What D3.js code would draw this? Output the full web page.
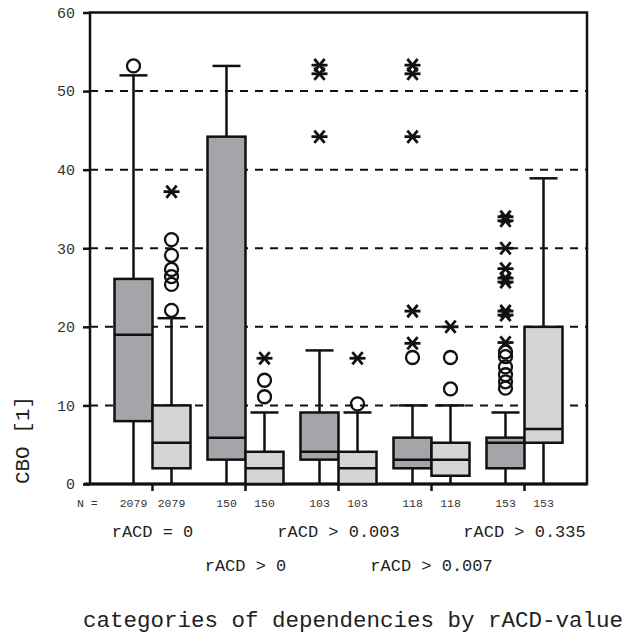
<!DOCTYPE html>
<html><head><meta charset="utf-8">
<script src="https://cdn.jsdelivr.net/npm/d3@7"></script>
<style>body{margin:0;background:#fff}svg{display:block}</style>
</head><body><svg id="c" width="630" height="635"></svg>
<script>
const categories = ["rACD = 0","rACD > 0","rACD > 0.003","rACD > 0.007","rACD > 0.335"];
const nCounts = [2079,150,103,118,153];
const yTicks = [0,10,20,30,40,50,60];
// dark series (first box of each pair)
const darkMin = [0,0,0,0,0];
const darkQ1  = [8,3.1,3.1,2,2];
const darkMed = [19,5.9,4.1,3.1,5.25];
const darkQ3  = [26.1,44.2,9.1,5.9,5.9];
const darkMax = [52,53.2,17,10,9.1];
const darkCircles = [[53.2],[],[],[16.1],[12.2,13,13.9,14.9,16.2,16.8]];
const darkStars = [[],[],[53.3,52.2,44.2],[53.3,52.2,44.2,17.9,22],[18,21.5,22,25.7,26.2,27.4,30,33.5,34]];
// light series (second box of each pair)
const lightMin = [0,0,0,0,0];
const lightQ1  = [2,0,0,1.05,5.25];
const lightMed = [5.25,2,2,3.1,7];
const lightQ3  = [10,4.1,4.1,5.25,20];
const lightMax = [21.1,9.1,9.1,10,38.9];
const lightCircles = [[22.1,25.4,26.4,27.3,29.1,31.1],[11.1,13.2],[10.2],[12.1,16.1],[]];
const lightStars = [[37.2],[16],[16],[20],[]];

const series = [
  {key:"dark", fill:"#a4a5a9", min:darkMin,q1:darkQ1,med:darkMed,q3:darkQ3,max:darkMax,circ:darkCircles,star:darkStars},
  {key:"light", fill:"#d4d5d7", min:lightMin,q1:lightQ1,med:lightMed,q3:lightQ3,max:lightMax,circ:lightCircles,star:lightStars}
];

const svg = d3.select("#c");
const L=90, R=587, T=12.5, B=484;
const FONT = "'Liberation Mono', 'Courier New', monospace";
const y = d3.scaleLinear().domain([0,60]).range([B,T]);
const x = d3.scaleBand().domain(categories).range([L+16, R-16]);
const sub = d3.scaleBand().domain(["dark","light"]).range([x.bandwidth()/2-38, x.bandwidth()/2+38]);
const bw = sub.bandwidth();

// gridlines
svg.append("g").selectAll("line").data(yTicks.filter(t=>t>0&&t<60)).join("line")
  .attr("x1",L).attr("x2",R).attr("y1",d=>y(d)).attr("y2",d=>y(d))
  .attr("stroke","#111").attr("stroke-width",2).attr("stroke-dasharray","8,7");

// y axis
const ya = svg.append("g").attr("transform",`translate(${L},0)`)
  .call(d3.axisLeft(y).tickValues(yTicks).tickSize(7).tickPadding(8));
ya.select(".domain").remove();
ya.selectAll(".tick line").attr("stroke","#111").attr("stroke-width",2.5);
ya.selectAll(".tick text").attr("font-family",FONT).attr("font-size",15).attr("fill","#333");

// x axis ticks
const xa = svg.append("g").attr("transform",`translate(0,${B})`)
  .call(d3.axisBottom(x).tickSize(7).tickFormat(""));
xa.select(".domain").remove();
xa.selectAll(".tick line").attr("stroke","#111").attr("stroke-width",2.5);

// frame
svg.append("rect").attr("x",L).attr("y",T).attr("width",R-L).attr("height",B-T)
  .attr("fill","none").attr("stroke","#111").attr("stroke-width",2.5);
svg.append("line").attr("x1",L-6).attr("x2",R).attr("y1",B).attr("y2",B).attr("stroke","#111").attr("stroke-width",3);

// boxes
series.forEach(s=>{
  const g = svg.append("g");
  categories.forEach((c,i)=>{
    const x0 = x(c)+sub(s.key), cx = x0+bw/2;
    g.append("line").attr("x1",cx).attr("x2",cx).attr("y1",y(s.min[i])).attr("y2",y(s.q1[i]))
      .attr("stroke","#111").attr("stroke-width",2.5);
    g.append("line").attr("x1",cx).attr("x2",cx).attr("y1",y(s.q3[i])).attr("y2",y(s.max[i]))
      .attr("stroke","#111").attr("stroke-width",2.5);
    g.append("line").attr("x1",cx-14).attr("x2",cx+14).attr("y1",y(s.max[i])).attr("y2",y(s.max[i]))
      .attr("stroke","#111").attr("stroke-width",2.5);
    g.append("rect").attr("x",x0).attr("width",bw).attr("y",y(s.q3[i])).attr("height",y(s.q1[i])-y(s.q3[i]))
      .attr("fill",s.fill).attr("stroke","#111").attr("stroke-width",2.5);
    g.append("line").attr("x1",x0).attr("x2",x0+bw).attr("y1",y(s.med[i])).attr("y2",y(s.med[i]))
      .attr("stroke","#111").attr("stroke-width",2.5);
    s.circ[i].forEach(v=>{
      g.append("circle").attr("cx",cx).attr("cy",y(v)).attr("r",6.5)
        .attr("fill","none").attr("stroke","#111").attr("stroke-width",2.3);
    });
    s.star[i].forEach(v=>{
      const sg = g.append("g").attr("transform",`translate(${cx},${y(v)})`);
      [0,50,-50].forEach(a=>{
        const r=8, rad=a*Math.PI/180;
        sg.append("line").attr("x1",-r*Math.cos(rad)).attr("y1",-r*Math.sin(rad))
          .attr("x2",r*Math.cos(rad)).attr("y2",r*Math.sin(rad))
          .attr("stroke","#111").attr("stroke-width",2.8);
      });
    });
  });
});

// N labels
const nl = svg.append("g").attr("font-family",FONT).attr("font-size",11.5).attr("fill","#333");
nl.append("text").attr("x",77).attr("y",507).text("N =");
series.forEach(s=>{
  categories.forEach((c,i)=>{
    nl.append("text").attr("x",x(c)+sub(s.key)+bw/2).attr("y",507).attr("text-anchor","middle").text(nCounts[i]);
  });
});

// category labels
svg.append("g").selectAll("text").data(categories).join("text")
  .attr("x",d=>x(d)+x.bandwidth()/2).attr("y",(d,i)=> i%2===0 ? 537 : 571)
  .attr("text-anchor","middle").attr("font-family",FONT).attr("font-size",17).attr("fill","#222")
  .text(d=>d);

// axis titles
svg.append("text").attr("x",353).attr("y",627).attr("text-anchor","middle")
  .attr("font-family",FONT).attr("font-size",22.5).attr("fill","#222")
  .text("categories of dependencies by rACD-value");
svg.append("text").attr("transform","translate(29,440) rotate(-90)").attr("text-anchor","middle")
  .attr("font-family",FONT).attr("font-size",21).attr("fill","#222").text("CBO [1]");
</script></body></html>
